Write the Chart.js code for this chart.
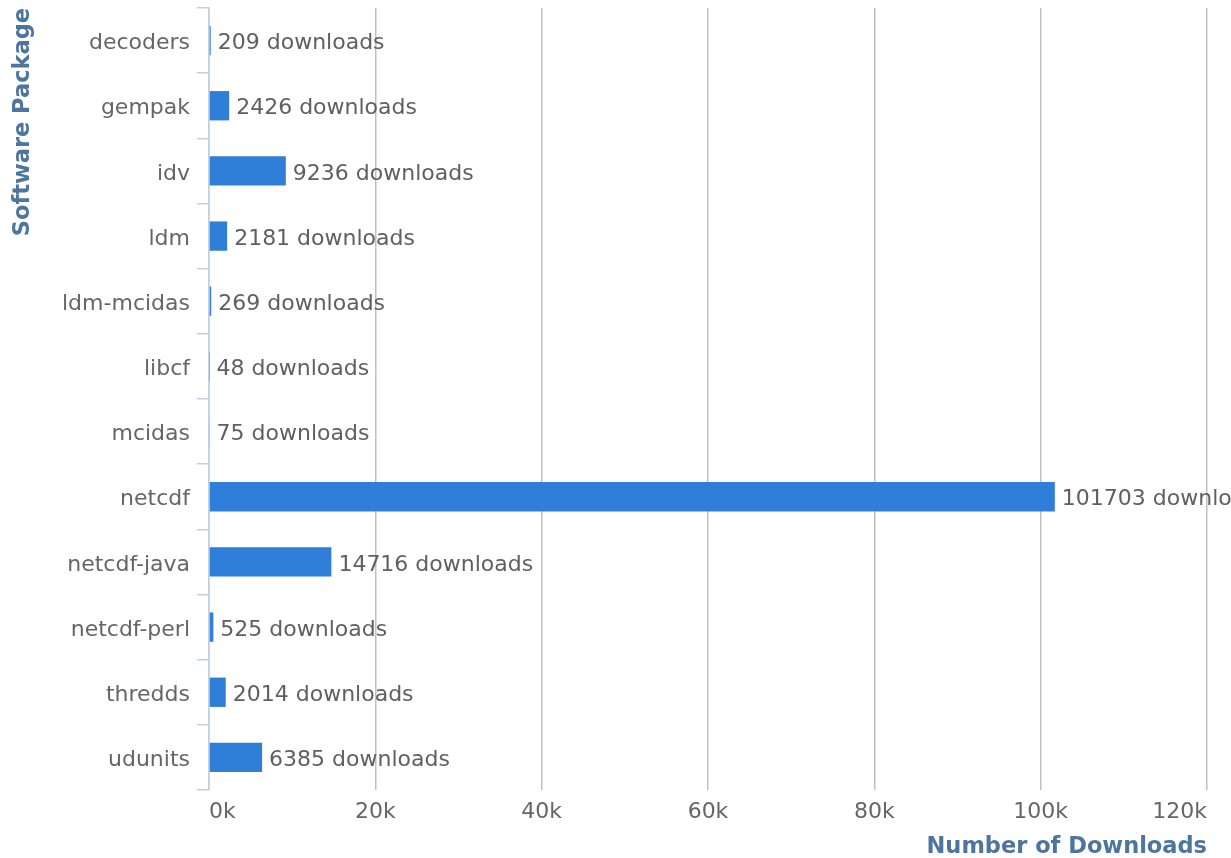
<!DOCTYPE html>
<html>
<head>
<meta charset="utf-8">
<script src="https://cdn.jsdelivr.net/npm/chart.js@4"></script>
<style>
  body { margin: 0; background: #fff; }
  #wrap { width: 1231px; height: 858px; }
</style>
</head>
<body>
<div id="wrap"><canvas id="mycanvas"></canvas></div>
<script>
var packages = ["decoders", "gempak", "idv", "ldm", "ldm-mcidas", "libcf", "mcidas",
                "netcdf", "netcdf-java", "netcdf-perl", "thredds", "udunits"];
var downloads = [209, 2426, 9236, 2181, 269, 48, 75, 101703, 14716, 525, 2014, 6385];
var xTicks = [0, 20000, 40000, 60000, 80000, 100000, 120000];

var FONT = "'DejaVu Sans', Verdana, sans-serif";

// draws "N downloads" at the end of every bar
var barLabels = {
	id: 'barLabels',
	afterDatasetsDraw: function(chart) {
		var ctx = chart.ctx;
		var meta = chart.getDatasetMeta(0);
		ctx.save();
		ctx.font = "22px " + FONT;
		ctx.fillStyle = "#606060";
		ctx.textAlign = "left";
		ctx.textBaseline = "middle";
		meta.data.forEach(function(bar, i) {
			ctx.fillText(downloads[i] + " downloads", bar.x + 7, bar.y + 3);
		});
		ctx.restore();
	}
};

var ctx = document.getElementById("mycanvas");

var chartdata = {
	labels: packages,
	datasets: [
		{
			label: "downloads",
			backgroundColor: "#2f7ed8",
			borderWidth: 0,
			categoryPercentage: 0.45,
			barPercentage: 1.0,
			data: downloads
		}
	]
};

var BarGraph = new Chart(ctx, {
	type: 'bar',
	data: chartdata,
	plugins: [barLabels],
	options: {
		indexAxis: 'y',
		responsive: true,
		maintainAspectRatio: false,
		animation: false,
		layout: { padding: { top: 8, right: 24, left: 4, bottom: 0 } },
		plugins: {
			legend: { display: false },
			tooltip: { enabled: false }
		},
		scales: {
			x: {
				min: 0,
				max: 120000,
				afterBuildTicks: function(axis) {
					axis.ticks = xTicks.map(function(v) { return { value: v }; });
				},
				afterFit: function(scale) {
					scale.height = 68;
				},
				ticks: {
					color: "#666",
					font: { family: FONT, size: 22 },
					padding: 9,
					align: "inner",
					callback: function(v) { return (v / 1000) + "k"; }
				},
				grid: {
					color: "#c0c0c0",
					lineWidth: 1.5,
					drawTicks: false
				},
				border: { display: false },
				title: {
					display: true,
					text: "Number of Downloads",
					align: "end",
					color: "#4d759e",
					font: { family: FONT, size: 22.5, weight: "bold" },
					padding: { top: 0, bottom: -3 }
				}
			},
			y: {
				// category labels sit mid-band, so no half-label padding at the ends
				afterFit: function(scale) {
					scale.paddingTop = 0;
					scale.paddingBottom = 0;
				},
				ticks: {
					color: "#666",
					font: { family: FONT, size: 22 },
					padding: 7,
					labelOffset: 3
				},
				grid: {
					offset: true,
					drawOnChartArea: false,
					color: "#c0d0e0",
					lineWidth: 1.5,
					tickLength: 12
				},
				border: { display: true, color: "#c0d0e0", width: 1.5 },
				title: {
					display: true,
					text: "Software Package",
					align: "end",
					color: "#4d759e",
					font: { family: FONT, size: 22.5, weight: "bold" },
					padding: { top: 6, bottom: 18 }
				}
			}
		}
	}
});
</script>
</body>
</html>
